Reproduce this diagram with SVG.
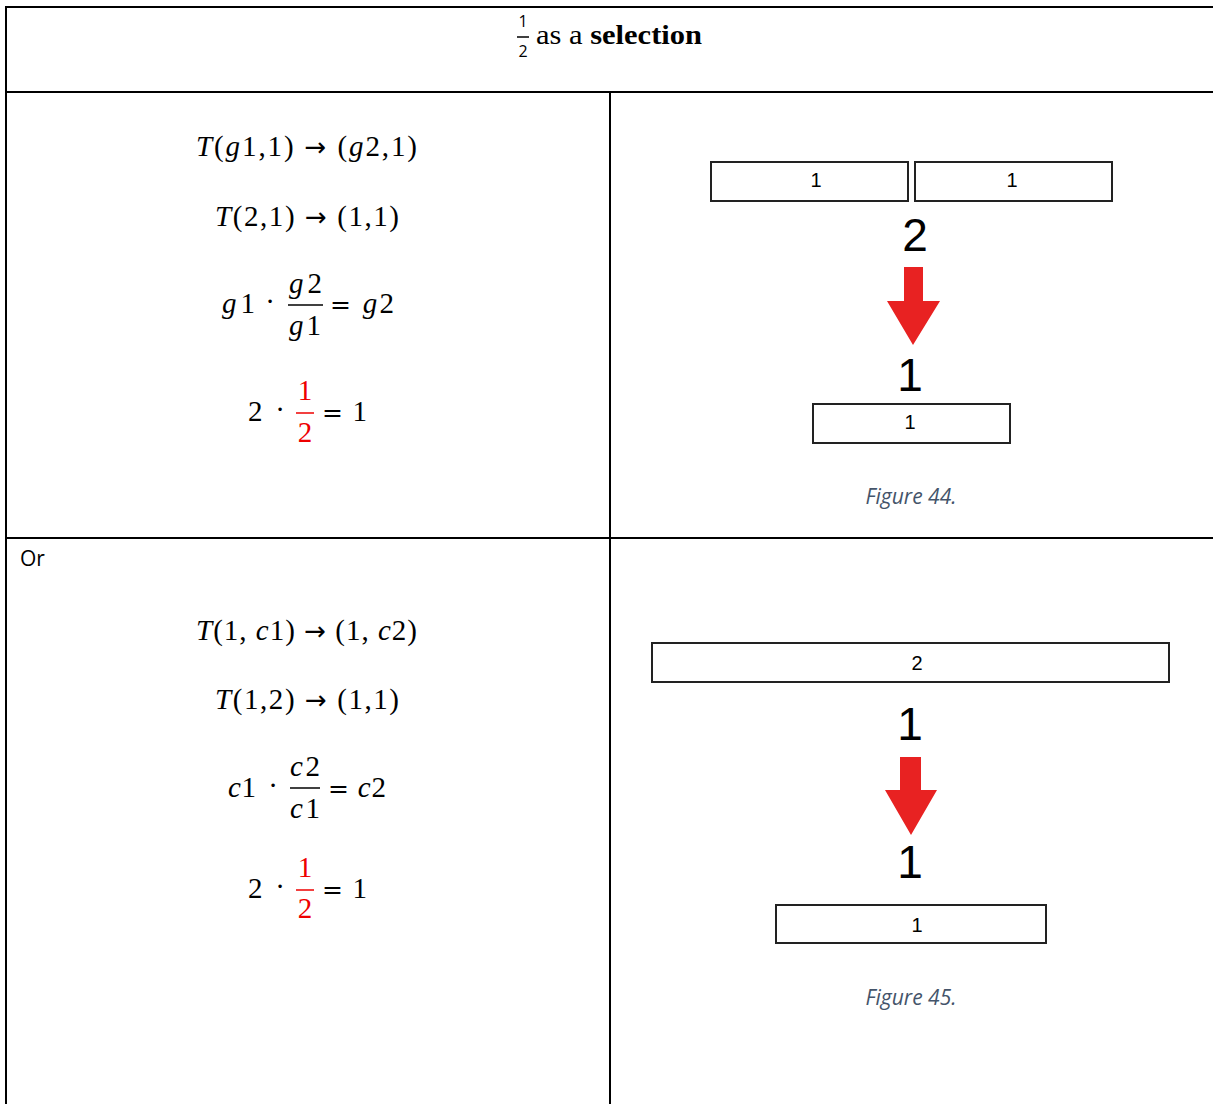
<svg xmlns="http://www.w3.org/2000/svg" width="1213" height="1104" viewBox="0 0 1213 1104">
<style>
.m{font-family:"Liberation Serif","DejaVu Serif",serif;font-size:29px;fill:#000}
.i{font-style:italic}
.a{font-family:"DejaVu Sans",sans-serif;font-size:26px}
.e{font-family:"DejaVu Sans",sans-serif;font-size:25px}
.r{fill:#e00}
.t{font-family:"Liberation Serif",serif;font-size:27px}
.s{font-family:"Liberation Sans",Arial,sans-serif;fill:#000}
.box{fill:#fff;stroke:#222;stroke-width:2}
.cap{font-family:"Open Sans","Noto Sans",sans-serif;font-style:italic;font-size:21px;fill:#44546A}
.arr{fill:#e82222}
.bl{stroke:#000;stroke-width:2}
.fl{stroke:#000;stroke-width:1.5}
.flr{stroke:#e00;stroke-width:1.5}
</style>
<rect width="1213" height="1104" fill="#fff"/>
<g id="table">
<line class="bl" x1="5" y1="7" x2="1213" y2="7"/>
<line class="bl" x1="6" y1="6" x2="6" y2="1104"/>
<line class="bl" x1="5" y1="92" x2="1213" y2="92"/>
<line class="bl" x1="610" y1="92" x2="610" y2="1104"/>
<line class="bl" x1="5" y1="538" x2="1213" y2="538"/>
</g>
<g id="title">
<text x="523" y="27" text-anchor="middle" font-family="'Open Sans','Noto Sans',sans-serif" font-size="16">1</text>
<line class="fl" x1="517" y1="37" x2="529" y2="37"/>
<text x="523" y="57" text-anchor="middle" font-family="'Open Sans','Noto Sans',sans-serif" font-size="16">2</text>
<text class="t" x="536" y="44" textLength="166" lengthAdjust="spacingAndGlyphs">as a <tspan font-weight="bold">selection</tspan></text>
</g>
<g id="eq-top">
<text class="m" x="196" y="156" textLength="221"><tspan class="i">T</tspan>(<tspan class="i">g</tspan>1,1) <tspan class="a">→</tspan> (<tspan class="i">g</tspan>2,1)</text>
<text class="m" x="215" y="226" textLength="184"><tspan class="i">T</tspan>(2,1) <tspan class="a">→</tspan> (1,1)</text>
<text class="m" x="222" y="313" textLength="33"><tspan class="i">g</tspan>1</text>
<text class="m" x="270" y="311" text-anchor="middle">·</text>
<text class="m" x="289" y="293" textLength="33"><tspan class="i">g</tspan>2</text>
<line class="fl" x1="288" y1="305" x2="323" y2="305"/>
<text class="m" x="289" y="335" textLength="32"><tspan class="i">g</tspan>1</text>
<text class="m" x="330" y="313" textLength="64"><tspan class="e">=</tspan> <tspan class="i">g</tspan>2</text>
<text class="m" x="248" y="421">2</text>
<text class="m" x="280" y="419" text-anchor="middle">·</text>
<text class="m r" x="305" y="400" text-anchor="middle">1</text>
<line class="flr" x1="296" y1="413" x2="314" y2="413"/>
<text class="m r" x="305" y="442" text-anchor="middle">2</text>
<text class="m" x="322" y="421" textLength="45"><tspan class="e">=</tspan> 1</text>
</g>
<g id="fig44">
<rect class="box" x="711" y="162" width="197" height="39"/>
<text class="s" x="816" y="187" font-size="20" text-anchor="middle">1</text>
<rect class="box" x="915" y="162" width="197" height="39"/>
<text class="s" x="1012" y="187" font-size="20" text-anchor="middle">1</text>
<text class="s" x="915" y="251" font-size="46" text-anchor="middle">2</text>
<polygon class="arr" points="904,267 923,267 923,301 940,301 913,345 887,301 904,301"/>
<text class="s" x="910" y="391" font-size="46" text-anchor="middle">1</text>
<rect class="box" x="813" y="404" width="197" height="39"/>
<text class="s" x="910" y="429" font-size="20" text-anchor="middle">1</text>
<text class="cap" x="911" y="504" text-anchor="middle">Figure 44.</text>
</g>
<g id="or">
<text x="20" y="566" font-family="'Open Sans','Noto Sans',sans-serif" font-size="21" fill="#000">Or</text>
</g>
<g id="eq-bottom">
<text class="m" x="196" y="640" textLength="221"><tspan class="i">T</tspan>(1, <tspan class="i">c</tspan>1) <tspan class="a">→</tspan> (1, <tspan class="i">c</tspan>2)</text>
<text class="m" x="215" y="709" textLength="184"><tspan class="i">T</tspan>(1,2) <tspan class="a">→</tspan> (1,1)</text>
<text class="m" x="228" y="797" textLength="28"><tspan class="i">c</tspan>1</text>
<text class="m" x="273" y="795" text-anchor="middle">·</text>
<text class="m" x="290" y="776" textLength="30"><tspan class="i">c</tspan>2</text>
<line class="fl" x1="290" y1="788" x2="320" y2="788"/>
<text class="m" x="290" y="818" textLength="30"><tspan class="i">c</tspan>1</text>
<text class="m" x="328" y="797" textLength="58"><tspan class="e">=</tspan> <tspan class="i">c</tspan>2</text>
<text class="m" x="248" y="898">2</text>
<text class="m" x="280" y="896" text-anchor="middle">·</text>
<text class="m r" x="305" y="877" text-anchor="middle">1</text>
<line class="flr" x1="296" y1="890" x2="314" y2="890"/>
<text class="m r" x="305" y="918" text-anchor="middle">2</text>
<text class="m" x="322" y="898" textLength="45"><tspan class="e">=</tspan> 1</text>
</g>
<g id="fig45">
<rect class="box" x="652" y="643" width="517" height="39"/>
<text class="s" x="917" y="670" font-size="20" text-anchor="middle">2</text>
<text class="s" x="910" y="740" font-size="46" text-anchor="middle">1</text>
<polygon class="arr" points="900,757 921,757 921,790 937,790 911,835 885,790 900,790"/>
<text class="s" x="910" y="878" font-size="46" text-anchor="middle">1</text>
<rect class="box" x="776" y="905" width="270" height="38"/>
<text class="s" x="917" y="932" font-size="20" text-anchor="middle">1</text>
<text class="cap" x="911" y="1005" text-anchor="middle">Figure 45.</text>
</g>
</svg>
